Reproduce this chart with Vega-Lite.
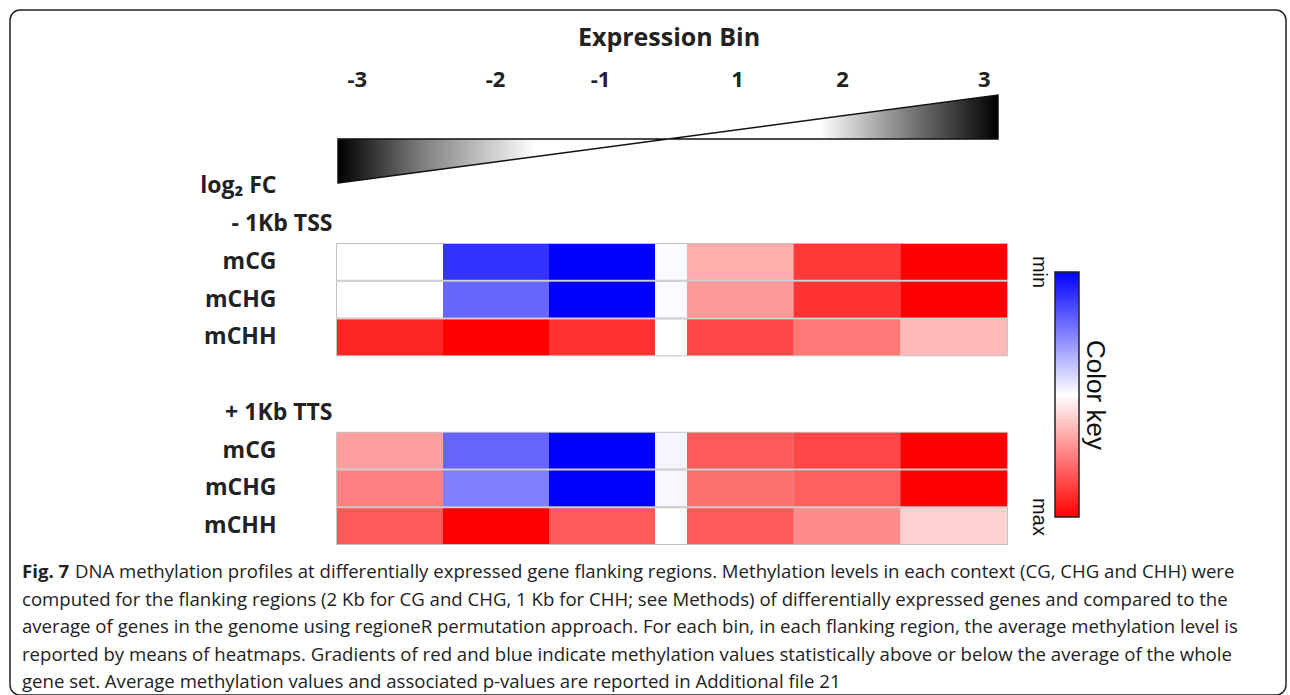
{
  "$schema": "https://vega.github.io/schema/vega-lite/v6.json",
  "width": 1276,
  "height": 685,
  "autosize": {"type": "none"},
  "padding": {"left": 10, "top": 10, "right": 4, "bottom": 0},
  "background": "white",
  "config": {
    "view": {"stroke": "#222222", "strokeWidth": 1.5, "cornerRadius": 10},
    "font": "Open Sans"
  },
  "datasets": {
    "cells": [
      {"track": "TSS|mCG", "bin": "-3", "value": 0},
      {"track": "TSS|mCG", "bin": "-2", "value": -0.8},
      {"track": "TSS|mCG", "bin": "-1", "value": -1},
      {"track": "TSS|mCG", "bin": "0", "value": -0.02},
      {"track": "TSS|mCG", "bin": "1", "value": 0.32},
      {"track": "TSS|mCG", "bin": "2", "value": 0.78},
      {"track": "TSS|mCG", "bin": "3", "value": 1},
      {"track": "TSS|mCHG", "bin": "-3", "value": 0},
      {"track": "TSS|mCHG", "bin": "-2", "value": -0.6},
      {"track": "TSS|mCHG", "bin": "-1", "value": -1},
      {"track": "TSS|mCHG", "bin": "0", "value": -0.02},
      {"track": "TSS|mCHG", "bin": "1", "value": 0.4},
      {"track": "TSS|mCHG", "bin": "2", "value": 0.8},
      {"track": "TSS|mCHG", "bin": "3", "value": 1},
      {"track": "TSS|mCHH", "bin": "-3", "value": 0.85},
      {"track": "TSS|mCHH", "bin": "-2", "value": 1},
      {"track": "TSS|mCHH", "bin": "-1", "value": 0.8},
      {"track": "TSS|mCHH", "bin": "0", "value": 0},
      {"track": "TSS|mCHH", "bin": "1", "value": 0.73},
      {"track": "TSS|mCHH", "bin": "2", "value": 0.53},
      {"track": "TSS|mCHH", "bin": "3", "value": 0.27},
      {"track": "TTS|mCG", "bin": "-3", "value": 0.38},
      {"track": "TTS|mCG", "bin": "-2", "value": -0.6},
      {"track": "TTS|mCG", "bin": "-1", "value": -1},
      {"track": "TTS|mCG", "bin": "0", "value": -0.04},
      {"track": "TTS|mCG", "bin": "1", "value": 0.65},
      {"track": "TTS|mCG", "bin": "2", "value": 0.73},
      {"track": "TTS|mCG", "bin": "3", "value": 1},
      {"track": "TTS|mCHG", "bin": "-3", "value": 0.5},
      {"track": "TTS|mCHG", "bin": "-2", "value": -0.5},
      {"track": "TTS|mCHG", "bin": "-1", "value": -1},
      {"track": "TTS|mCHG", "bin": "0", "value": -0.03},
      {"track": "TTS|mCHG", "bin": "1", "value": 0.56},
      {"track": "TTS|mCHG", "bin": "2", "value": 0.62},
      {"track": "TTS|mCHG", "bin": "3", "value": 1},
      {"track": "TTS|mCHH", "bin": "-3", "value": 0.65},
      {"track": "TTS|mCHH", "bin": "-2", "value": 1},
      {"track": "TTS|mCHH", "bin": "-1", "value": 0.65},
      {"track": "TTS|mCHH", "bin": "0", "value": 0},
      {"track": "TTS|mCHH", "bin": "1", "value": 0.65},
      {"track": "TTS|mCHH", "bin": "2", "value": 0.45},
      {"track": "TTS|mCHH", "bin": "3", "value": 0.18}
    ],
    "bins": [
      {"bin": -3}, {"bin": -2}, {"bin": -1}, {"bin": 1}, {"bin": 2}, {"bin": 3}
    ],
    "wedge": [
      {"bin": -3, "log2FC": -3},
      {"bin": 3, "log2FC": 3}
    ],
    "caption": [
      {"line": 1, "start": "margin", "part": "label", "text": "Fig. 7"},
      {"line": 1, "start": "after label", "part": "body", "text": "DNA methylation profiles at differentially expressed gene flanking regions. Methylation levels in each context (CG, CHG and CHH) were"},
      {"line": 2, "start": "margin", "part": "body", "text": "computed for the flanking regions (2 Kb for CG and CHG, 1 Kb for CHH; see Methods) of differentially expressed genes and compared to the"},
      {"line": 3, "start": "margin", "part": "body", "text": "average of genes in the genome using regioneR permutation approach. For each bin, in each flanking region, the average methylation level is"},
      {"line": 4, "start": "margin", "part": "body", "text": "reported by means of heatmaps. Gradients of red and blue indicate methylation values statistically above or below the average of the whole"},
      {"line": 5, "start": "margin", "part": "body", "text": "gene set. Average methylation values and associated p-values are reported in Additional file 21"}
    ]
  },
  "layer": [
    {
      "data": {"name": "bins"},
      "mark": {"type": "point", "opacity": 0},
      "encoding": {
        "x": {
          "field": "bin",
          "type": "quantitative",
          "scale": {"domain": [-3, -2, -1, 1, 2, 3], "range": [337, 485, 590, 727, 832, 980], "zero": false, "nice": false},
          "axis": {
            "orient": "top",
            "offset": -90,
            "values": [-3, -2, -1, 1, 2, 3],
            "labelExpr": "'' + datum.value",
            "domain": false,
            "ticks": false,
            "grid": false,
            "labelFont": "Open Sans",
            "labelFontSize": 22,
            "labelFontWeight": "bold",
            "labelColor": "#222222",
            "labelPadding": 9,
            "title": "Expression Bin",
            "titleFont": "Open Sans",
            "titleFontSize": 25,
            "titleFontWeight": "bold",
            "titleColor": "#222222",
            "titlePadding": 18
          }
        }
      }
    },
    {
      "data": {"name": "wedge"},
      "mark": {
        "type": "area",
        "stroke": "#111111",
        "strokeWidth": 1.5,
        "fill": {
          "gradient": "linear",
          "x1": 0, "y1": 0, "x2": 1, "y2": 0,
          "stops": [
            {"offset": 0, "color": "#000000"},
            {"offset": 0.13, "color": "#808080"},
            {"offset": 0.3, "color": "#ffffff"},
            {"offset": 0.73, "color": "#ffffff"},
            {"offset": 0.86, "color": "#808080"},
            {"offset": 1, "color": "#000000"}
          ]
        }
      },
      "encoding": {
        "x": {"field": "bin", "type": "quantitative", "scale": {"domain": [-3, 3], "range": [328, 988], "zero": false, "nice": false}, "axis": null},
        "y": {"field": "log2FC", "type": "quantitative", "scale": {"domain": [-3, 3], "range": [173, 85], "nice": false}, "axis": null}
      }
    },
    {
      "data": {"name": "cells"},
      "mark": {"type": "rect", "fill": "#c4c4c4"},
      "encoding": {
        "x": {"field": "bin", "type": "ordinal", "scale": {"domain": ["-3", "-2", "-1", "0", "1", "2", "3"], "range": [326, 998], "paddingInner": 0, "paddingOuter": 0}, "axis": null},
        "y": {"field": "track", "type": "ordinal", "scale": {"domain": ["log₂ FC", "- 1Kb TSS", "TSS|mCG", "TSS|mCHG", "TSS|mCHH", "gap", "+ 1Kb TTS", "TTS|mCG", "TTS|mCHG", "TTS|mCHH"], "range": [157.5, 535], "paddingInner": 0, "paddingOuter": 0}, "axis": null}
      }
    },
    {
      "data": {"name": "cells"},
      "transform": [{"filter": {"field": "bin", "oneOf": ["-3", "-2", "-1"]}}],
      "mark": {"type": "rect"},
      "encoding": {
        "x": {"field": "bin", "type": "ordinal", "scale": {"domain": ["-3", "-2", "-1"], "range": [327, 645], "paddingInner": 0, "paddingOuter": 0}, "axis": null},
        "y": {
          "field": "track",
          "type": "ordinal",
          "scale": {"domain": ["log₂ FC", "- 1Kb TSS", "TSS|mCG", "TSS|mCHG", "TSS|mCHH", "gap", "+ 1Kb TTS", "TTS|mCG", "TTS|mCHG", "TTS|mCHH"], "range": [157.5, 535], "paddingInner": 0.05, "paddingOuter": 0.025},
          "axis": {
            "orient": "left",
            "offset": -327,
            "title": null,
            "domain": false,
            "ticks": false,
            "grid": false,
            "labelExpr": "datum.value == 'gap' ? '' : (indexof(datum.value, '|') > 0 ? split(datum.value, '|')[1] : datum.value)",
            "labelFont": "Open Sans",
            "labelFontSize": 23,
            "labelFontWeight": "bold",
            "labelColor": "#222222",
            "labelLimit": 300,
            "labelPadding": {"condition": {"test": "indexof(datum.value, 'Kb') >= 0", "value": 5}, "value": 61}
          }
        },
        "color": {
          "field": "value",
          "type": "quantitative",
          "scale": {"domain": [1, 0, -1], "range": ["#ff0000", "#ffffff", "#0000ff"], "interpolate": "rgb"},
          "legend": {
            "orient": "none",
            "legendX": 1045,
            "legendY": 262,
            "direction": "vertical",
            "padding": 0,
            "gradientLength": 245,
            "gradientThickness": 24,
            "gradientStrokeColor": "#222222",
            "gradientStrokeWidth": 1.5,
            "values": [-1, 1],
            "labelExpr": "datum.value < 0 ? 'min' : 'max'",
            "labelFont": "Liberation Sans",
            "labelFontSize": 20,
            "labelColor": "#111111",
            "labelOffset": -40,
            "title": "Color key",
            "titleOrient": "right",
            "titleAnchor": "middle",
            "titleFont": "Liberation Sans",
            "titleFontSize": 26,
            "titleFontWeight": "normal",
            "titleColor": "#111111",
            "titlePadding": 2,
            "encode": {
              "labels": {
                "update": {
                  "angle": {"value": 90},
                  "align": {"value": "center"},
                  "baseline": {"value": "middle"}
                }
              }
            }
          }
        }
      }
    },
    {
      "data": {"name": "cells"},
      "transform": [{"filter": {"field": "bin", "oneOf": ["0"]}}],
      "mark": {"type": "rect"},
      "encoding": {
        "x": {"field": "bin", "type": "ordinal", "scale": {"domain": ["0"], "range": [645, 677], "paddingInner": 0, "paddingOuter": 0}, "axis": null},
        "y": {"field": "track", "type": "ordinal", "scale": {"domain": ["log₂ FC", "- 1Kb TSS", "TSS|mCG", "TSS|mCHG", "TSS|mCHH", "gap", "+ 1Kb TTS", "TTS|mCG", "TTS|mCHG", "TTS|mCHH"], "range": [157.5, 535], "paddingInner": 0.05, "paddingOuter": 0.025}, "axis": null},
        "color": {"field": "value", "type": "quantitative"}
      }
    },
    {
      "data": {"name": "cells"},
      "transform": [{"filter": {"field": "bin", "oneOf": ["1", "2", "3"]}}],
      "mark": {"type": "rect"},
      "encoding": {
        "x": {"field": "bin", "type": "ordinal", "scale": {"domain": ["1", "2", "3"], "range": [677, 997], "paddingInner": 0, "paddingOuter": 0}, "axis": null},
        "y": {"field": "track", "type": "ordinal", "scale": {"domain": ["log₂ FC", "- 1Kb TSS", "TSS|mCG", "TSS|mCHG", "TSS|mCHH", "gap", "+ 1Kb TTS", "TTS|mCG", "TTS|mCHG", "TTS|mCHH"], "range": [157.5, 535], "paddingInner": 0.05, "paddingOuter": 0.025}, "axis": null},
        "color": {"field": "value", "type": "quantitative"}
      }
    },
    {
      "data": {"name": "caption"},
      "transform": [{"filter": "datum.part == 'label'"}],
      "mark": {"type": "text", "align": "left", "baseline": "middle", "font": "Open Sans", "fontSize": 18.6, "fontWeight": "bold", "color": "#222222"},
      "encoding": {
        "x": {"field": "start", "type": "nominal", "scale": {"type": "point", "domain": ["margin", "after label"], "range": [12, 65], "padding": 0}, "axis": null},
        "y": {"field": "line", "type": "ordinal", "scale": {"type": "point", "domain": [1, 2, 3, 4, 5], "range": [562, 672], "padding": 0}, "axis": null},
        "text": {"field": "text"}
      }
    },
    {
      "data": {"name": "caption"},
      "transform": [{"filter": "datum.part == 'body'"}],
      "mark": {"type": "text", "align": "left", "baseline": "middle", "font": "Open Sans", "fontSize": 18.6, "fontWeight": "normal", "color": "#222222"},
      "encoding": {
        "x": {"field": "start", "type": "nominal", "scale": {"type": "point", "domain": ["margin", "after label"], "range": [12, 65], "padding": 0}, "axis": null},
        "y": {"field": "line", "type": "ordinal", "scale": {"type": "point", "domain": [1, 2, 3, 4, 5], "range": [562, 672], "padding": 0}, "axis": null},
        "text": {"field": "text"}
      }
    }
  ],
  "resolve": {
    "scale": {"x": "independent", "y": "independent"},
    "axis": {"x": "independent", "y": "independent"}
  }
}
